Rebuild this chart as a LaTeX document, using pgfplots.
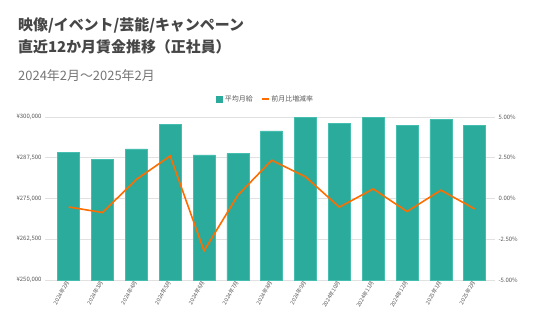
\documentclass[border=0pt]{standalone}
\usepackage{fontspec}
\setmainfont{Noto Sans CJK JP}
\usepackage{pgfplots}
\pgfplotsset{compat=1.18}
\definecolor{barteal}{RGB}{42,171,155}
\definecolor{baredge}{RGB}{70,190,175}
\definecolor{lineorange}{RGB}{255,109,0}
\definecolor{titlegray}{RGB}{70,70,70}
\definecolor{subgray}{RGB}{117,117,117}
\definecolor{tickgray}{RGB}{90,90,90}
\definecolor{gridgray}{RGB}{225,225,225}
\begin{document}
\begin{tikzpicture}[x=1bp,y=1bp]
\useasboundingbox (0,0) rectangle (536,-331);
\node[anchor=west, font=\fontsize{15}{15}\selectfont\bfseries, text=titlegray, inner sep=0] at (18,-25) {映像/イベント/芸能/キャンペーン};
\node[anchor=west, font=\fontsize{15}{15}\selectfont\bfseries, text=titlegray, inner sep=0] at (18,-47) {直近12か月賃金推移（正社員）};
\node[anchor=west, font=\fontsize{13}{13}\selectfont, text=subgray, inner sep=0] at (18,-76) {2024年2月～2025年2月};
\begin{axis}[
  at={(45bp,-280bp)}, anchor=south west,
  width=450bp, height=163bp, scale only axis,
  xmin=-0.7, xmax=12.6, ymin=250000, ymax=300000,
  scaled y ticks=false,
  ytick={250000,262500,275000,287500,300000},
  yticklabels={{¥250,000},{¥262,500},{¥275,000},{¥287,500},{¥300,000}},
  xtick={0,...,12},
  xticklabels={2024年2月,2024年3月,2024年4月,2024年5月,2024年6月,2024年7月,2024年8月,2024年9月,2024年10月,2024年11月,2024年12月,2025年1月,2025年2月},
  xticklabel style={rotate=60, anchor=east, font=\fontsize{5.5}{5.5}\selectfont, text=tickgray, inner sep=1.5bp},
  yticklabel style={font=\fontsize{6}{6}\selectfont, text=tickgray},
  axis line style={draw=none}, major tick length=0pt,
  ymajorgrids, grid style={gridgray, line width=0.8pt},
  clip=true,
]
\addplot[ybar, bar width=22bp, fill=barteal, draw=baredge, line width=0.5pt] coordinates {
(0,289200) (1,286950) (2,290200) (3,297670) (4,288360) (5,288790) (6,295710)
(7,299800) (8,298160) (9,300000) (10,297550) (11,299200) (12,297360)};
\end{axis}
\begin{axis}[
  at={(45bp,-280bp)}, anchor=south west,
  width=450bp, height=163bp, scale only axis,
  xmin=-0.7, xmax=12.6, ymin=-5, ymax=5,
  axis y line*=right, axis x line=none,
  ytick={-5,-2.5,0,2.5,5},
  yticklabels={-5.00\%,-2.50\%,0.00\%,2.50\%,5.00\%},
  yticklabel style={font=\fontsize{6}{6}\selectfont, text=tickgray},
  axis line style={draw=none}, major tick length=0pt,
  legend style={at={(0.49,1.11)}, anchor=center, draw=none, fill=none, font=\fontsize{7}{7}\selectfont, text=tickgray, legend columns=2, /tikz/every even column/.append style={column sep=6bp}},
  legend cell align=left,
]
\addlegendimage{area legend, fill=barteal, draw=none, legend image code/.code={\fill[barteal] (0bp,-3.5bp) rectangle (7bp,3.5bp);}}
\addlegendentry{平均月給}
\addplot[lineorange, line width=1.6bp, no markers, legend image code/.code={\draw[lineorange, line width=1.6bp] (0bp,0bp) -- (7bp,0bp);}] coordinates {
(0,-0.52) (1,-0.86) (2,1.17) (3,2.61) (4,-3.21) (5,0.20) (6,2.35)
(7,1.33) (8,-0.53) (9,0.59) (10,-0.80) (11,0.51) (12,-0.64)};
\addlegendentry{前月比増減率}
\end{axis}
\end{tikzpicture}
\end{document}
